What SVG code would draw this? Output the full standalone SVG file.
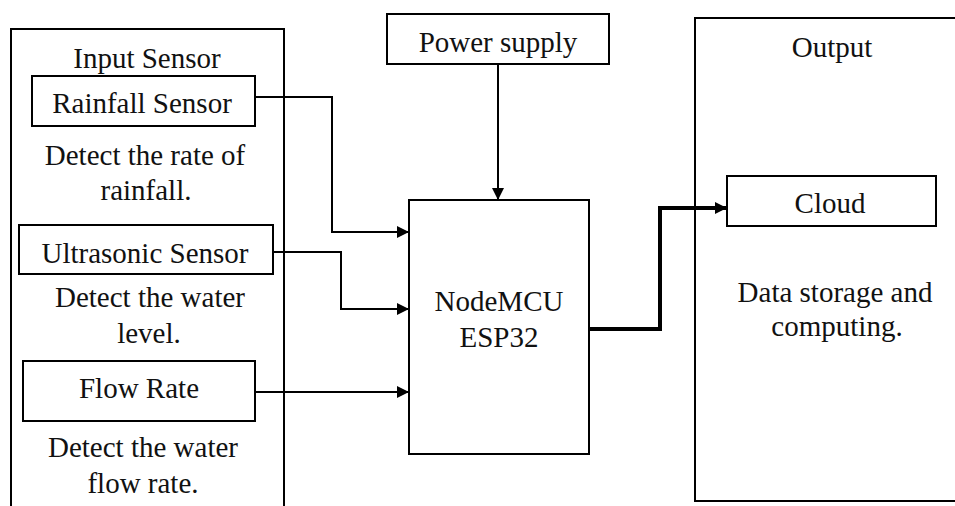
<svg xmlns="http://www.w3.org/2000/svg" width="955" height="506" viewBox="0 0 955 506">
<style>
.box{fill:#fff;stroke:#000;stroke-width:2}
.t{font-family:"Liberation Serif","Times New Roman",serif;font-size:29px;fill:#111;text-anchor:middle}
.c{fill:none;stroke:#000;stroke-width:2}
.ct{fill:none;stroke:#000;stroke-width:4}
</style>
<defs>
<marker id="ah" viewBox="0 0 12 12" refX="12" refY="6" markerWidth="12" markerHeight="12" markerUnits="userSpaceOnUse" orient="auto">
<path d="M0,0 L12,6 L0,12 Z" fill="#000"/>
</marker>
</defs>
<rect width="955" height="506" fill="#fff"/>
<g id="input-sensor">
<rect class="box" x="11" y="29" width="273" height="490"/>
<text class="t" x="147" y="68">Input Sensor</text>
</g>
<g id="rainfall-sensor">
<rect class="box" x="32" y="76" width="223" height="50"/>
<text class="t" x="142" y="113">Rainfall Sensor</text>
<text class="t" x="145" y="165">Detect the rate of</text>
<text class="t" x="146" y="200">rainfall.</text>
</g>
<g id="ultrasonic-sensor">
<rect class="box" x="19" y="225" width="254" height="49"/>
<text class="t" x="145" y="263">Ultrasonic Sensor</text>
<text class="t" x="150" y="307">Detect the water</text>
<text class="t" x="149" y="343">level.</text>
</g>
<g id="flow-rate">
<rect class="box" x="23" y="361" width="232" height="60"/>
<text class="t" x="139" y="398">Flow Rate</text>
<text class="t" x="143" y="457">Detect the water</text>
<text class="t" x="143" y="493">flow rate.</text>
</g>
<g id="power-supply">
<rect class="box" x="387" y="14" width="222" height="50"/>
<text class="t" x="498" y="52">Power supply</text>
</g>
<g id="nodemcu">
<rect class="box" x="409" y="200" width="180" height="254"/>
<text class="t" x="499" y="311">NodeMCU</text>
<text class="t" x="499" y="347">ESP32</text>
</g>
<g id="output">
<rect class="box" x="695" y="18" width="275" height="483"/>
<text class="t" x="832" y="57">Output</text>
<text class="t" x="835" y="302">Data storage and</text>
<text class="t" x="837" y="336">computing.</text>
</g>
<g id="cloud">
<rect class="box" x="727" y="176" width="209" height="50"/>
<text class="t" x="830" y="213">Cloud</text>
</g>
<g id="connectors">
<path class="c" d="M255,97 H332 V232 H409" marker-end="url(#ah)"/>
<path class="c" d="M273,252 H341 V309 H409" marker-end="url(#ah)"/>
<path class="c" d="M255,392 H409" marker-end="url(#ah)"/>
<path class="c" d="M498,64 V200" marker-end="url(#ah)"/>
<path class="ct" d="M589,329 H660 V208 H727" marker-end="url(#ah)"/>
</g>
</svg>
